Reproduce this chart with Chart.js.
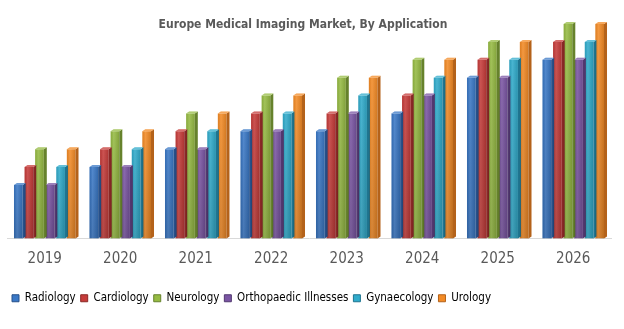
<!DOCTYPE html>
<html>
<head>
<meta charset="utf-8">
<script src="https://cdn.jsdelivr.net/npm/chart.js@4.4.1/dist/chart.umd.min.js"></script>
<style>
  body { margin: 0; background: #fff; }
  #wrap { position: relative; width: 624px; height: 329px; }
  #title {
    position: absolute; left: 0; top: 17px; width: 606px; text-align: center;
    font: bold 12px "DejaVu Sans Condensed", "Open Sans", sans-serif; color: #595959;
  }
</style>
</head>
<body>
<div id="wrap">
  <canvas id="chart"></canvas>
  <div id="title">Europe Medical Imaging Market, By Application</div>
</div>
<script>
// data (arbitrary units, no axis shown)
const years = ['2019', '2020', '2021', '2022', '2023', '2024', '2025', '2026'];
const radiology   = [3, 4, 5, 6, 6, 7, 9, 10];
const cardiology  = [4, 5, 6, 7, 7, 8, 10, 11];
const neurology   = [5, 6, 7, 8, 9, 10, 11, 12];
const orthopaedic = [3, 4, 5, 6, 7, 8, 9, 10];
const gynaecology = [4, 5, 6, 7, 8, 9, 10, 11];
const urology     = [5, 6, 7, 8, 9, 10, 11, 12];

const seriesNames = ['Radiology', 'Cardiology', 'Neurology', 'Orthopaedic Illnesses', 'Gynaecology', 'Urology'];
const seriesData = [radiology, cardiology, neurology, orthopaedic, gynaecology, urology];
const colours = ['#3a78c6', '#c63c3a', '#96bb43', '#7a55a3', '#30abcb', '#f38b26'];
const darker = ['#27508a', '#8a2826', '#66822c', '#523870', '#1f7590', '#b4621a'];

const font = '"DejaVu Sans Condensed", "Open Sans", sans-serif';

// little 3d look: side face, top cap and a gradient on the front
const bar3d = {
  id: 'bar3d',
  afterDatasetsDraw(chart) {
    const ctx = chart.ctx;
    const d = 3, dy = 2;
    chart.data.datasets.forEach((ds, i) => {
      const meta = chart.getDatasetMeta(i);
      meta.data.forEach(bar => {
        const l = bar.x - bar.width / 2, r = bar.x + bar.width / 2;
        const top = bar.y, base = bar.base;
        // front shading
        const g = ctx.createLinearGradient(l, 0, r, 0);
        g.addColorStop(0, 'rgba(0,0,0,0.08)');
        g.addColorStop(0.35, 'rgba(255,255,255,0.12)');
        g.addColorStop(1, 'rgba(0,0,0,0.12)');
        ctx.fillStyle = g;
        ctx.fillRect(l, top, r - l, base - top);
        const gv = ctx.createLinearGradient(0, top, 0, base);
        gv.addColorStop(0, 'rgba(0,0,0,0)');
        gv.addColorStop(1, 'rgba(0,0,0,0.12)');
        ctx.fillStyle = gv;
        ctx.fillRect(l, top, r - l, base - top);
        // side
        ctx.fillStyle = darker[i];
        ctx.beginPath();
        ctx.moveTo(r, top);
        ctx.lineTo(r + d, top - dy);
        ctx.lineTo(r + d, base - dy);
        ctx.lineTo(r, base);
        ctx.closePath();
        ctx.fill();
        // top cap
        ctx.fillStyle = colours[i];
        ctx.beginPath();
        ctx.moveTo(l, top);
        ctx.lineTo(l + d, top - dy);
        ctx.lineTo(r + d, top - dy);
        ctx.lineTo(r, top);
        ctx.closePath();
        ctx.fill();
        ctx.fillStyle = 'rgba(255,255,255,0.25)';
        ctx.fill();
      });
    });
  }
};

new Chart(document.getElementById('chart'), {
  type: 'bar',
  data: {
    labels: years,
    datasets: seriesNames.map((name, i) => ({
      label: name,
      data: seriesData[i],
      backgroundColor: colours[i],
      borderWidth: 0,
      categoryPercentage: 0.84,
      barPercentage: 0.82
    }))
  },
  options: {
    responsive: true,
    maintainAspectRatio: false,
    animation: false,
    layout: { padding: { left: 7, right: 13, top: 24, bottom: 15 } },
    plugins: {
      title: { display: false },
      tooltip: { enabled: false },
      legend: {
        position: 'bottom',
        align: 'start',
        labels: {
          boxWidth: 7, boxHeight: 7,
          padding: 5,
          color: '#404040',
          font: { family: font, size: 11.5 },
          generateLabels(chart) {
            return chart.data.datasets.map((ds, i) => ({
              text: ds.label, fillStyle: colours[i], strokeStyle: darker[i],
              lineWidth: 1, datasetIndex: i, hidden: false
            }));
          }
        }
      }
    },
    scales: {
      x: {
        grid: { display: false },
        border: { display: true, color: '#d9d9d9', width: 1 },
        ticks: { color: '#595959', font: { family: font, size: 15 }, padding: 4 },
        afterFit(scale) { scale.height = 49; }
      },
      y: { display: false, min: 0, max: 12 }
    }
  },
  plugins: [bar3d]
});
</script>
</body>
</html>
